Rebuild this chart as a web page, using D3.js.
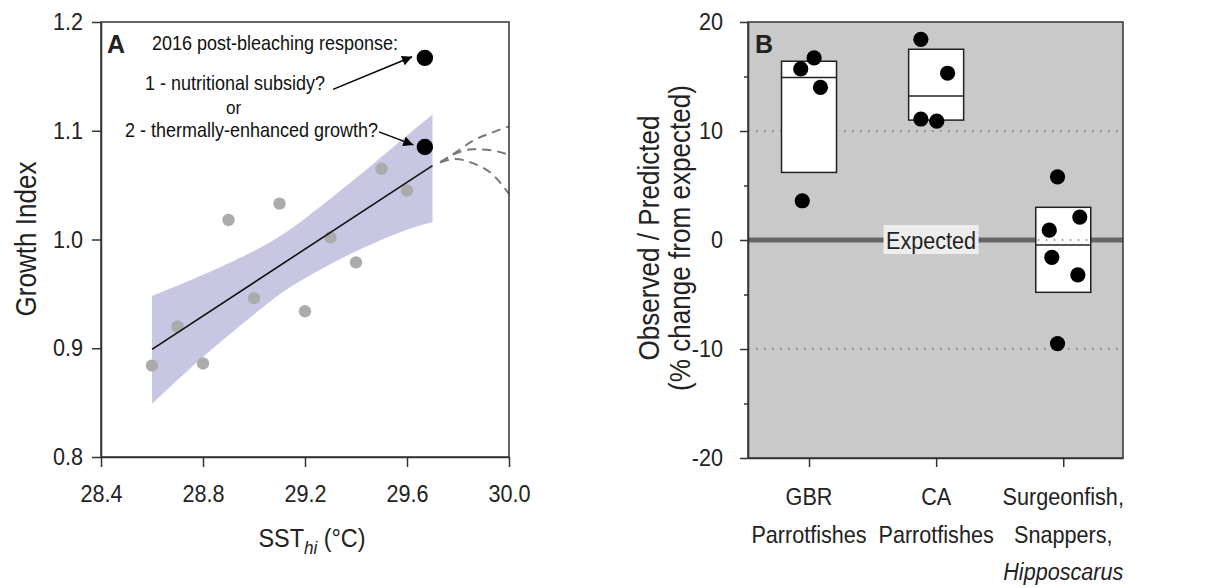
<!DOCTYPE html>
<html>
<head>
<meta charset="utf-8">
<script src="https://d3js.org/d3.v7.min.js"></script>
<style>
  body { margin: 0; background: #fff; }
  svg { display: block; font-family: "Liberation Sans", Arial, sans-serif; }
</style>
</head>
<body>
<script>
// ---- panel A data ----
var sstValues = [28.6, 28.7, 28.8, 28.9, 29.0, 29.1, 29.2, 29.3, 29.4, 29.5, 29.6];
var growthValues = [0.884, 0.920, 0.886, 1.018, 0.946, 1.033, 0.934, 1.002, 0.979, 1.065, 1.045];
var bleachX = [29.67, 29.67];
var bleachY = [1.167, 1.085];
var fitX = [28.6, 29.7];
var fitY = [0.899, 1.068];
var bandX = [28.6, 28.8, 29.0, 29.1, 29.2, 29.4, 29.6, 29.7];
var bandUpper = [0.948, 0.967, 0.989, 1.002, 1.019, 1.056, 1.096, 1.115];
var bandLower = [0.849, 0.893, 0.931, 0.950, 0.965, 0.990, 1.010, 1.016];
var projX = [29.73, 29.79, 29.86, 29.93, 30.0];
var projHigh = [1.071, 1.080, 1.091, 1.098, 1.104];
var projMid = [1.071, 1.079, 1.083, 1.082, 1.078];
var projLow = [1.071, 1.074, 1.070, 1.061, 1.042];
var xTicksA = [28.4, 28.8, 29.2, 29.6, 30.0];
var yTicksA = [0.8, 0.9, 1.0, 1.1, 1.2];

// ---- panel B data ----
var groupNames = [["GBR", "Parrotfishes"], ["CA", "Parrotfishes"], ["Surgeonfish,", "Snappers,", "Hipposcarus"]];
var groupPos = [1, 2, 3];
var boxLow = [6.2, 11.0, -4.8];
var boxHigh = [16.4, 17.5, 3.0];
var boxMedian = [14.9, 13.2, -0.45];
var obsGroup = [0.935, 1.04, 1.09, 0.947, 1.88, 2.09, 1.88, 2.005, 2.955, 3.13, 2.89, 2.91, 3.115, 2.955];
var obsValue = [15.7, 16.7, 14.0, 3.6, 18.4, 15.3, 11.1, 10.9, 5.8, 2.1, 0.9, -1.6, -3.2, -9.5];
var yTicksB = [-20, -10, 0, 10, 20];
var yMinorB = [-15, -5, 5, 15];
var refLines = [10, -10];

var SQ = 0.9; // the original's font is a bit narrower than Arial
var svg = d3.select("body").append("svg").attr("width", 1218).attr("height", 588);

function txt(parent, x, y, str, size, anchor, rot) {
  var t = parent.append("text")
    .attr("transform", "translate(" + x + "," + y + ")" + (rot ? " rotate(" + rot + ")" : "") + " scale(" + SQ + ",1)")
    .attr("text-anchor", anchor || "start")
    .style("font-size", size + "px").style("fill", "#222");
  if (str) t.text(str);
  return t;
}
function squeeze(sel) {
  sel.each(function(){
    var t = d3.select(this);
    var x = +t.attr("x") || 0, y = +t.attr("y") || 0;
    t.attr("x", 0).attr("y", 0).attr("transform", "translate(" + x + "," + y + ") scale(" + SQ + ",1)");
  });
}
function styleAxis(g) {
  g.select(".domain").style("stroke", "#333").style("stroke-width", 1.5);
  g.selectAll(".tick line").style("stroke", "#333").style("stroke-width", 1.5);
  g.selectAll(".tick text").style("font-size", "24px").style("fill", "#222")
    .style("font-family", "Liberation Sans, Arial, sans-serif").call(squeeze);
}

// ================= Panel A =================
var xA = d3.scaleLinear().domain([28.4, 30.0]).range([101, 509]);
var yA = d3.scaleLinear().domain([0.8, 1.2]).range([457, 22]);
var pA = svg.append("g");

var bandArea = d3.area()
  .x(function(d, i){ return xA(bandX[i]); })
  .y0(function(d, i){ return yA(bandLower[i]); })
  .y1(function(d, i){ return yA(bandUpper[i]); })
  .curve(d3.curveBasis);
pA.append("path").attr("d", bandArea(bandX)).style("fill", "#c7c7e3");

sstValues.forEach(function(v, i){
  pA.append("circle").attr("cx", xA(v)).attr("cy", yA(growthValues[i])).attr("r", 6.2)
    .style("fill", "#ababab");
});

pA.append("line")
  .attr("x1", xA(fitX[0])).attr("y1", yA(fitY[0]))
  .attr("x2", xA(fitX[1])).attr("y2", yA(fitY[1]))
  .style("stroke", "#111").style("stroke-width", 1.6);

var projLine = d3.line()
  .x(function(d, i){ return xA(projX[i]); })
  .y(function(d){ return yA(d); })
  .curve(d3.curveMonotoneX);
[projHigh, projMid, projLow].forEach(function(s){
  pA.append("path").attr("d", projLine(s))
    .style("fill", "none").style("stroke", "#777").style("stroke-width", 2)
    .style("stroke-dasharray", "9,6");
});

bleachX.forEach(function(v, i){
  pA.append("circle").attr("cx", xA(v)).attr("cy", yA(bleachY[i])).attr("r", 8.2).style("fill", "#000");
});

pA.append("rect").attr("x", 101).attr("y", 22).attr("width", 408).attr("height", 435)
  .style("fill", "none").style("stroke", "#333").style("stroke-width", 1.5);

pA.append("g").attr("transform", "translate(0,457)")
  .call(d3.axisBottom(xA).tickValues(xTicksA).tickFormat(d3.format(".1f")).tickSize(10).tickPadding(18).tickSizeOuter(0))
  .call(styleAxis);
pA.append("g").attr("transform", "translate(101,0)")
  .call(d3.axisLeft(yA).tickValues(yTicksA).tickFormat(d3.format(".1f")).tickSize(9).tickPadding(9).tickSizeOuter(0))
  .call(styleAxis);

var xt = txt(pA, 312, 547, null, 26, "middle");
xt.append("tspan").text("SST");
xt.append("tspan").attr("dy", 7).style("font-size", "19px").style("font-style", "italic").text("hi");
xt.append("tspan").attr("dy", -7).text(" (°C)");

txt(pA, 36, 239, "Growth Index", 29, "middle", -90);

pA.append("text").attr("x", 107).attr("y", 53).style("font-size", "25px").style("font-weight", "bold")
  .style("fill", "#222").text("A");

var ann = [
  {t: "2016 post-bleaching response:", x: 152, y: 50, s: 20},
  {t: "1 - nutritional subsidy?", x: 145, y: 90, s: 20},
  {t: "or", x: 226, y: 114, s: 19},
  {t: "2 - thermally-enhanced growth?", x: 125, y: 137, s: 20}
];
ann.forEach(function(a){
  txt(pA, a.x, a.y, a.t, a.s, "start").style("fill", "#111");
});

svg.append("defs").append("marker").attr("id", "arr").attr("viewBox", "0 0 10 10")
  .attr("refX", 10).attr("refY", 5).attr("markerWidth", 15).attr("markerHeight", 10)
  .attr("markerUnits", "userSpaceOnUse").attr("orient", "auto")
  .append("path").attr("d", "M0,0 L10,5 L0,10 Z").style("fill", "#000");

var arrows = [[[29.31, 1.138], [29.62, 1.168]], [[29.49, 1.099], [29.625, 1.087]]];
arrows.forEach(function(a){
  pA.append("line").attr("x1", xA(a[0][0])).attr("y1", yA(a[0][1]))
    .attr("x2", xA(a[1][0])).attr("y2", yA(a[1][1]))
    .style("stroke", "#000").style("stroke-width", 1.5).attr("marker-end", "url(#arr)");
});

// ================= Panel B =================
var xB = d3.scaleLinear().domain([0.52, 3.47]).range([748, 1123]);
var yB = d3.scaleLinear().domain([-20, 20]).range([458, 22]);
var pB = svg.append("g");
var boxW = 55;

pB.append("rect").attr("x", 748).attr("y", 22).attr("width", 375).attr("height", 436)
  .style("fill", "#c9c9c9");

refLines.forEach(function(v){
  pB.append("line").attr("x1", 748).attr("x2", 1123).attr("y1", yB(v)).attr("y2", yB(v))
    .style("stroke", "#7a7a7a").style("stroke-width", 1.5).style("stroke-dasharray", "1.5,6.5");
});

pB.append("line").attr("x1", 748).attr("x2", 1123).attr("y1", yB(0)).attr("y2", yB(0))
  .style("stroke", "#666").style("stroke-width", 5);

groupPos.forEach(function(g, i){
  pB.append("rect").attr("x", xB(g) - boxW / 2).attr("y", yB(boxHigh[i]))
    .attr("width", boxW).attr("height", yB(boxLow[i]) - yB(boxHigh[i]))
    .style("fill", "#fff").style("stroke", "#222").style("stroke-width", 1.5);
  if (boxLow[i] < 0 && boxHigh[i] > 0) {
    pB.append("line").attr("x1", xB(g) - boxW / 2 + 2).attr("x2", xB(g) + boxW / 2 - 2)
      .attr("y1", yB(0)).attr("y2", yB(0))
      .style("stroke", "#7a7a7a").style("stroke-width", 1.5).style("stroke-dasharray", "1.5,6.5");
  }
  pB.append("line").attr("x1", xB(g) - boxW / 2).attr("x2", xB(g) + boxW / 2)
    .attr("y1", yB(boxMedian[i])).attr("y2", yB(boxMedian[i]))
    .style("stroke", "#222").style("stroke-width", 1.5);
});

var expX = xB(1.96);
pB.append("rect").attr("x", expX - 47.5).attr("y", yB(0) - 15).attr("width", 95).attr("height", 29)
  .style("fill", "#ededed");
txt(pB, expX, yB(0) + 8.5, "Expected", 24, "middle");

obsGroup.forEach(function(g, i){
  pB.append("circle").attr("cx", xB(g)).attr("cy", yB(obsValue[i])).attr("r", 7.6).style("fill", "#000");
});

pB.append("rect").attr("x", 748).attr("y", 22).attr("width", 375).attr("height", 436)
  .style("fill", "none").style("stroke", "#333").style("stroke-width", 1.5);

pB.append("g").attr("transform", "translate(748,0)")
  .call(d3.axisLeft(yB).tickValues(yTicksB).tickFormat(function(d){ return String(d); })
    .tickSize(8).tickPadding(17).tickSizeOuter(0))
  .call(styleAxis);
pB.append("g").attr("transform", "translate(748,0)")
  .call(d3.axisLeft(yB).tickValues(yMinorB).tickSize(4).tickFormat("").tickSizeOuter(0))
  .call(function(g){ g.select(".domain").remove(); g.selectAll("line").style("stroke", "#333").style("stroke-width", 1.5); });
pB.append("g").attr("transform", "translate(0,458)")
  .call(d3.axisBottom(xB).tickValues(groupPos).tickFormat("").tickSize(9).tickSizeOuter(0))
  .call(styleAxis);

groupNames.forEach(function(lines, i){
  lines.forEach(function(l, j){
    txt(pB, xB(groupPos[i]), 505 + j * 37.5, l, 24, "middle")
      .style("font-style", l === "Hipposcarus" ? "italic" : "normal");
  });
});

txt(pB, 659, 238, "Observed / Predicted", 29, "middle", -90);
txt(pB, 690, 238, "(% change from expected)", 29, "middle", -90);

pB.append("text").attr("x", 755).attr("y", 53).style("font-size", "25px").style("font-weight", "bold")
  .style("fill", "#222").text("B");
</script>
</body>
</html>
